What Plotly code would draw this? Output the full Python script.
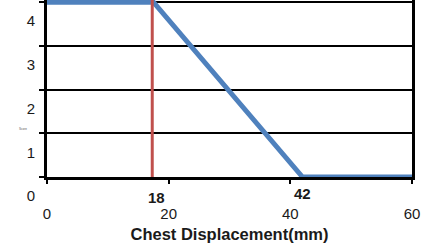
import plotly.graph_objects as go

# Data
curve_x = [0, 17.5, 42, 60]
curve_y = [4, 4, 0, 0]
marker_x = [17.3, 17.3]
marker_y = [0, 4.1]
x_ticks = [0, 20, 40, 60]
y_ticks = [0, 1, 2, 3, 4]
note_labels = ["18", "42"]
note_x = [18, 42]

FONT = "Liberation Sans, Arial, sans-serif"
TXT = "#1a1a1a"

fig = go.Figure()
fig.add_trace(go.Scatter(x=curve_x, y=curve_y, mode="lines",
                         line=dict(color="#4F81BD", width=5), showlegend=False,
                         hoverinfo="skip"))
fig.add_trace(go.Scatter(x=marker_x, y=marker_y, mode="lines",
                         line=dict(color="#C0504D", width=3), showlegend=False,
                         hoverinfo="skip"))

fig.update_layout(
    width=433, height=249,
    margin=dict(l=47, r=21, t=0, b=72),
    plot_bgcolor="white", paper_bgcolor="white",
    font=dict(family=FONT, size=15, color=TXT),
    xaxis=dict(range=[0, 60], tickvals=x_ticks, showgrid=False, zeroline=False,
               showline=True, linecolor="black", linewidth=3, mirror=True,
               ticks="outside", ticklen=4, tickwidth=2, tickcolor="black",
               ticklabelstandoff=17, automargin=False,
               title=dict(text="<b>Chest Displacement(mm)</b>", standoff=8,
                          font=dict(size=16.5, color=TXT))),
    yaxis=dict(range=[0, 4.05], tickvals=y_ticks, showgrid=True, gridcolor="black",
               gridwidth=2, zeroline=False, automargin=False,
               showline=True, linecolor="black", linewidth=3, mirror=True,
               ticks="outside", ticklen=5, tickwidth=2, tickcolor="black",
               ticklabelshift=19, ticklabelstandoff=1),
)

note_ypix = [-0.113, -0.096]
for lab, xv, yv in zip(note_labels, note_x, note_ypix):
    fig.add_annotation(x=xv, y=yv, xref="x", yref="paper", yanchor="middle",
                       text=f"<b>{lab}</b>",
                       showarrow=False, font=dict(size=15, color=TXT))

fig.add_annotation(x=-0.082, y=0.249, xref="paper", yref="paper", text="Score",
                   showarrow=False, font=dict(size=3, color="#555"))

fig.write_html("out.html", config={"displayModeBar": False},
               post_script="document.body.style.margin='0px';")
